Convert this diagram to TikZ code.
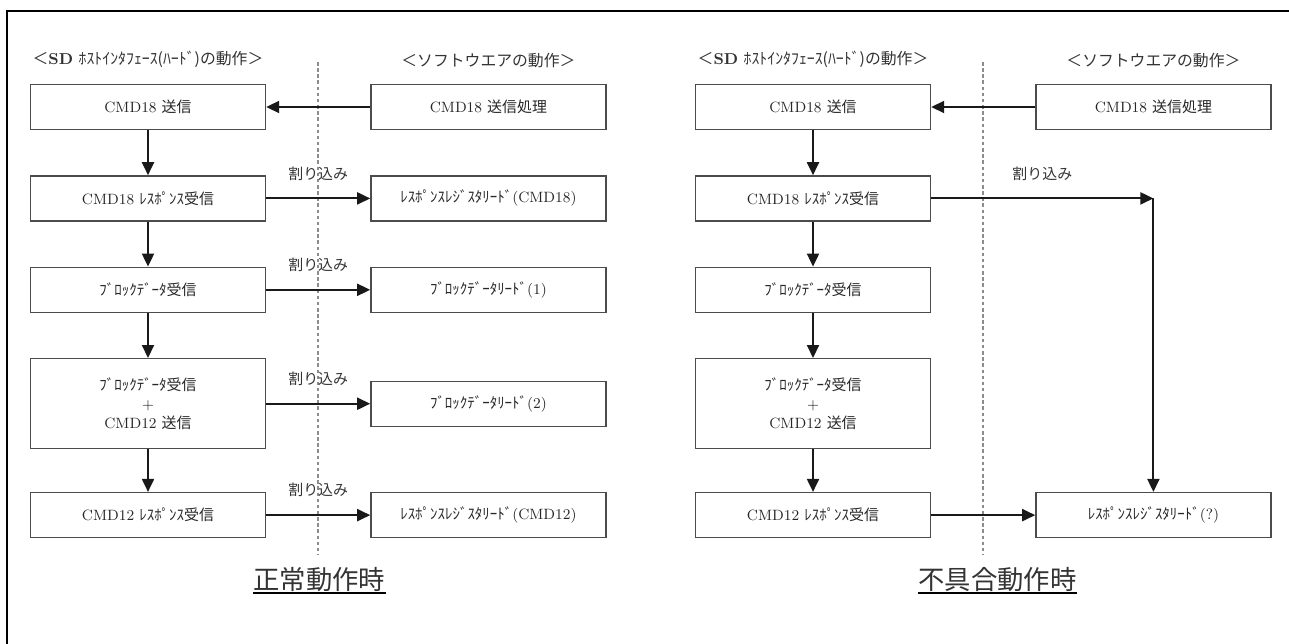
\documentclass[tikz,border=0pt]{standalone}
\usepackage{fontspec}
\usetikzlibrary{arrows.meta,positioning,calc}
\newfontfamily\jpfont{Noto Sans CJK JP}
\newcommand{\jp}[1]{{\jpfont #1}}
\colorlet{cline}{black!70}
\colorlet{csep}{black!45}

\begin{document}
\begin{tikzpicture}[node distance=0.9cm and 2.08cm,
  box/.style={draw=cline, line width=0.8pt, align=center, text=black!85, font=\fontsize{8.5}{11}\selectfont, inner sep=2pt, minimum width=4.7cm, minimum height=0.9cm},
  hd/.style={text=black!80, font=\fontsize{9}{11}\selectfont},
  irq/.style={text=black!80, font=\jpfont\fontsize{8.5}{10}\selectfont},
  ttl/.style={anchor=west, inner sep=0pt, text=black!80, font=\jpfont\fontsize{15}{18}\selectfont},
  arr/.style={-{Triangle[length=0.26cm, width=0.24cm]}, line width=1.1pt, black!90},
  sep/.style={csep, line width=0.7pt, dash pattern=on 2pt off 1.5pt}]
\useasboundingbox (0,0) rectangle (25.78,-12.88);
\draw[line width=1.6pt] (0.14,-12.88) |- (25.78,-0.22);

% normal operation
\node[box] (h1) at (2.96,-2.14) {CMD18 \jp{送信}};
\node[box, below=of h1] (h2) {CMD18 \jp{ﾚｽﾎﾟﾝｽ受信}};
\node[box, below=of h2] (h3) {\jp{ﾌﾞﾛｯｸﾃﾞｰﾀ受信}};
\node[box, below=of h3, minimum height=1.8cm] (h4) {\jp{ﾌﾞﾛｯｸﾃﾞｰﾀ受信}\\+\\CMD12 \jp{送信}};
\node[box, below=0.85cm of h4] (h5) {CMD12 \jp{ﾚｽﾎﾟﾝｽ受信}};
\node[box, right=of h1] (s1) {CMD18 \jp{送信処理}};
\node[box, right=of h2] (s2) {\jp{ﾚｽﾎﾟﾝｽﾚｼﾞｽﾀﾘｰﾄﾞ}(CMD18)};
\node[box, right=of h3] (s3) {\jp{ﾌﾞﾛｯｸﾃﾞｰﾀﾘｰﾄﾞ}(1)};
\node[box, right=of h4] (s4) {\jp{ﾌﾞﾛｯｸﾃﾞｰﾀﾘｰﾄﾞ}(2)};
\node[box, right=of h5] (s5) {\jp{ﾚｽﾎﾟﾝｽﾚｼﾞｽﾀﾘｰﾄﾞ}(CMD12)};
\node[hd, above=0.2cm of h1] (hdh) {\jp{＜}\textbf{SD} \jp{ﾎｽﾄｲﾝﾀﾌｪｰｽ(ﾊｰﾄﾞ)の動作＞}};
\node[hd, above=0.2cm of s1] (hds) {\jp{＜ソフトウエアの動作＞}};
\coordinate (d1a) at (6.36,-1.24); \coordinate (d1b) at (6.36,-11.1);
\draw[sep] (d1a) -- (d1b);
\draw[arr] (s1) -- (h1);
\draw[arr] (h1) -- (h2); \draw[arr] (h2) -- (h3); \draw[arr] (h3) -- (h4); \draw[arr] (h4) -- (h5);
\draw[arr] (h2) -- node[irq, midway, yshift=0.5cm] {割り込み} (s2);
\draw[arr] (h3) -- node[irq, midway, yshift=0.5cm] {割り込み} (s3);
\draw[arr] (h4) -- node[irq, midway, yshift=0.5cm] {割り込み} (s4);
\draw[arr] (h5) -- node[irq, midway, yshift=0.5cm] {割り込み} (s5);
\node[ttl] (t1) at (5.06,-11.6) {正常動作時};
\draw[line width=1.1pt] (t1.south west) -- (t1.south east);

% faulty operation
\node[box] (H1) at (16.26,-2.14) {CMD18 \jp{送信}};
\node[box, below=of H1] (H2) {CMD18 \jp{ﾚｽﾎﾟﾝｽ受信}};
\node[box, below=of H2] (H3) {\jp{ﾌﾞﾛｯｸﾃﾞｰﾀ受信}};
\node[box, below=of H3, minimum height=1.8cm] (H4) {\jp{ﾌﾞﾛｯｸﾃﾞｰﾀ受信}\\+\\CMD12 \jp{送信}};
\node[box, below=0.85cm of H4] (H5) {CMD12 \jp{ﾚｽﾎﾟﾝｽ受信}};
\node[box, right=of H1] (S1) {CMD18 \jp{送信処理}};
\node[box, right=of H5] (S5) {\jp{ﾚｽﾎﾟﾝｽﾚｼﾞｽﾀﾘｰﾄﾞ}(?)};
\node[hd, above=0.2cm of H1] (hdH) {\jp{＜}\textbf{SD} \jp{ﾎｽﾄｲﾝﾀﾌｪｰｽ(ﾊｰﾄﾞ)の動作＞}};
\node[hd, above=0.2cm of S1] (hdS) {\jp{＜ソフトウエアの動作＞}};
\coordinate (d2a) at (19.66,-1.24); \coordinate (d2b) at (19.66,-11.1);
\draw[sep] (d2a) -- (d2b);
\coordinate (turn) at (S5.north |- H2.east);
\draw[arr] (S1) -- (H1);
\draw[arr] (H1) -- (H2); \draw[arr] (H2) -- (H3); \draw[arr] (H3) -- (H4); \draw[arr] (H4) -- (H5);
\draw[arr] (H2) -- node[irq, midway, yshift=0.5cm] {割り込み} (turn);
\draw[arr] (turn) -- (S5);
\draw[arr] (H5) -- (S5);
\node[ttl] (t2) at (18.36,-11.6) {不具合動作時};
\draw[line width=1.1pt] (t2.south west) -- (t2.south east);
\end{tikzpicture}
\end{document}
